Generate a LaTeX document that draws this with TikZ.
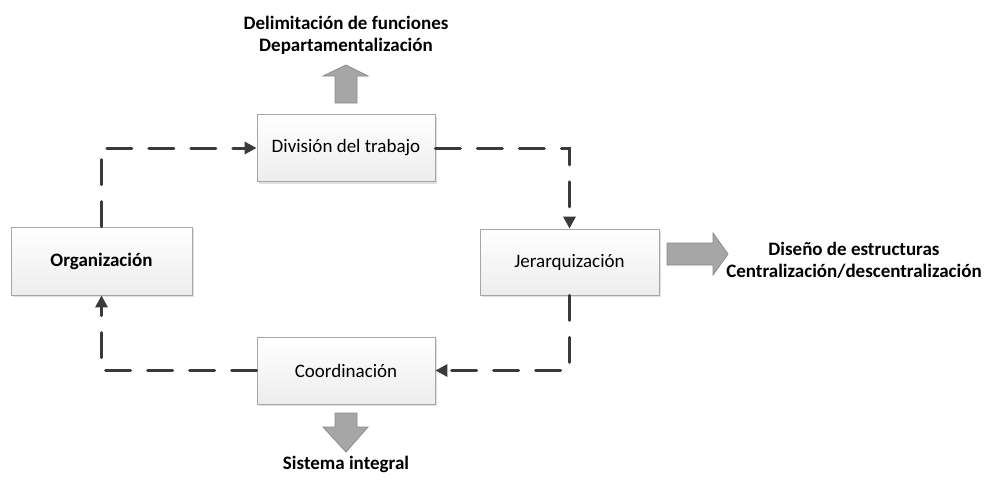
\documentclass[tikz,border=0pt]{standalone}
\usepackage{fontspec}
\setmainfont{Carlito}
\usetikzlibrary{arrows.meta,shadows}
\definecolor{boxfill}{HTML}{EDEDED}
\definecolor{boxline}{HTML}{A6A6A6}
\definecolor{conncol}{HTML}{3A3A3A}
\definecolor{blockfill}{HTML}{A6A6A6}
\definecolor{blockline}{HTML}{8C8C8C}
\begin{document}
\begin{tikzpicture}[x=1pt,y=-1pt,
  stepbox/.style={draw=boxline, line width=0.8pt, top color=white, bottom color=boxfill,
    minimum width=178pt, minimum height=67pt, inner sep=0pt,
    font=\fontsize{19}{22}\selectfont,
    drop shadow={shadow xshift=2pt, shadow yshift=-2pt, fill=black, opacity=0.12}},
  conn/.style={draw=conncol, line width=3pt, line cap=round, dash pattern=on 25pt off 17pt,
    -{Triangle[length=12pt,width=12pt]}},
  blockarrow/.style={fill=blockfill, draw=blockline, line width=0.8pt},
  lbl/.style={font=\fontsize{19}{22}\selectfont\bfseries, align=center, inner sep=0pt}]
\useasboundingbox (0,0) rectangle (993,499);
\fill[white] (0,0) rectangle (993,499);

\node[stepbox, minimum width=181pt, minimum height=68pt, font=\fontsize{19}{22}\selectfont\bfseries] (org) at (101.5,261) {Organización};
\node[stepbox] (div) at (346,148) {División del trabajo};
\node[stepbox, minimum width=179pt, minimum height=66pt] (jer) at (569.5,262) {Jerarquización};
\node[stepbox] (coo) at (346,370.5) {Coordinación};

\draw[conn] (org.north) |- (div.west);
\draw[conn] (div.east) -| (jer.north);
\draw[conn] (jer.south) |- (coo.east);
\draw[conn] (coo.west) -| (org.south);

% block arrows
\draw[blockarrow] (335,103) -- (335,76) -- (323,76) -- (346,65) -- (368,76) -- (357,76) -- (357,103) -- cycle;
\draw[blockarrow] (667,243) -- (713,243) -- (713,233) -- (728,254) -- (713,275) -- (713,265) -- (667,265) -- cycle;
\draw[blockarrow] (335,413) -- (357,413) -- (357,427) -- (368,427) -- (346,452) -- (323,427) -- (335,427) -- cycle;

\node[lbl] (l1) at (346,35) {Delimitación de funciones\\Departamentalización};
\node[lbl] (l2) at (854,260.5) {Diseño de estructuras\\Centralización/descentralización};
\node[lbl] (l3) at (346,464) {Sistema integral};
\end{tikzpicture}
\end{document}
